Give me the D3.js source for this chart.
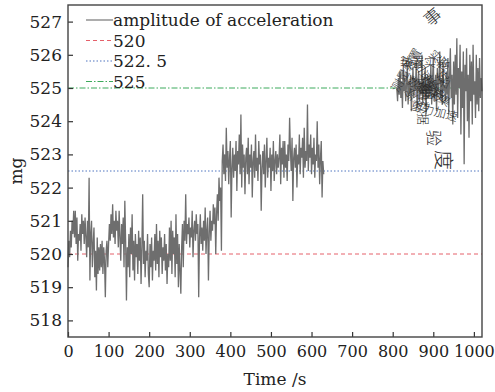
<!DOCTYPE html>
<html>
<head>
<meta charset="utf-8">
<script src="https://cdn.jsdelivr.net/npm/d3@7"></script>
<style>
  body { margin: 0; background: #fff; }
  text { font-family: "DejaVu Serif", "Liberation Serif", serif; }
</style>
</head>
<body>
<svg width="495" height="392"></svg>
<script>
// first recording: t = 0 .. 630 s, one sample every 2 s
const seg1Start = 0, seg1Step = 2;
const seg1Values = [
  519.6, 520.4, 519.9, 520.7, 520.2, 521.0, 520.6, 521.3, 520.5, 521.3, 520.3, 521.1, 519.8, 520.6, 520.4, 520.9, 520.1, 521.2, 520.6, 521.0,
  520.3, 521.1, 520.5, 519.9, 521.0, 520.2, 522.3, 519.2, 520.6, 521.0, 519.6, 520.3, 520.8, 519.3, 520.1, 518.9, 520.5, 519.4, 520.2, 519.5,
  520.3, 519.6, 520.4, 519.4, 520.2, 519.8, 518.7, 520.1, 520.4, 519.6, 520.3, 520.9, 520.4, 521.2, 520.6, 521.5, 520.5, 521.0, 520.3, 521.3,
  520.7, 521.0, 520.2, 521.3, 520.5, 519.8, 520.9, 520.3, 521.1, 519.6, 521.6, 520.4, 518.6, 520.2, 519.6, 520.6, 519.3, 520.8, 520.0, 521.2,
  519.5, 520.4, 519.2, 520.6, 519.9, 520.3, 519.4, 520.7, 519.8, 520.5, 519.1, 520.2, 521.8, 519.7, 520.4, 519.3, 520.1, 519.8, 520.6, 519.4,
  519.0, 520.3, 519.6, 520.5, 519.2, 520.1, 519.8, 520.6, 519.5, 520.9, 519.7, 520.4, 519.3, 520.7, 519.9, 520.5, 519.4, 520.2, 519.8, 520.6,
  519.5, 520.3, 519.1, 520.0, 519.6, 520.8, 519.8, 521.0, 519.4, 520.7, 520.0, 520.5, 519.3, 521.2, 519.7, 520.6, 519.0, 520.3, 519.5, 518.8,
  520.2, 520.9, 519.6, 521.0, 520.4, 521.8, 520.3, 520.9, 520.6, 521.1, 520.2, 520.8, 520.5, 521.3, 519.9, 520.7, 521.0, 520.4, 521.2, 520.6,
  520.9, 518.7, 520.5, 521.2, 520.3, 520.8, 520.1, 521.0, 520.4, 521.4, 520.0, 520.7, 521.1, 519.2, 520.6, 521.3, 520.4, 521.0, 520.7, 521.5,
  520.9, 521.4, 520.0, 521.2, 521.8, 521.0, 522.3, 521.6, 522.0, 520.1, 522.8, 523.3, 522.4, 523.0, 522.2, 523.8, 522.6, 523.1, 522.1, 522.9,
  523.4, 521.1, 522.6, 523.2, 522.3, 523.0, 522.5, 523.4, 521.9, 523.1, 522.7, 523.6, 522.4, 524.2, 522.0, 523.3, 522.6, 523.0, 521.8, 522.9,
  523.2, 522.4, 523.5, 522.1, 523.0, 522.6, 523.3, 521.7, 522.8, 523.1, 522.3, 523.6, 522.5, 522.9, 522.2, 523.4, 522.7, 523.0, 521.3, 522.6,
  523.1, 522.4, 523.3, 522.0, 522.8, 523.5, 522.3, 522.9, 522.6, 523.2, 521.9, 523.0, 522.5, 523.4, 522.2, 522.8, 523.1, 522.4, 523.0, 522.6,
  522.9, 523.6, 522.1, 523.2, 522.7, 523.4, 522.3, 523.4, 522.6, 523.0, 522.2, 523.3, 522.8, 524.1, 523.1, 522.5, 523.5, 521.6, 522.9, 523.2,
  522.6, 523.3, 522.0, 523.0, 522.7, 523.6, 522.4, 523.2, 522.9, 523.5, 522.3, 523.8, 522.6, 523.1, 522.8, 524.5, 522.5, 523.3, 522.9, 523.6,
  522.4, 523.2, 522.7, 523.5, 522.3, 523.0, 522.8, 524.0, 522.6, 523.3, 522.1, 522.9, 523.4, 521.7, 522.8, 522.4
];

// second recording: t = 810 .. 1020 s
const seg2Start = 810, seg2Step = 2;
const seg2Values = [
  525.0, 524.6, 525.3, 524.8, 525.5, 524.7, 525.2, 524.4, 525.6, 524.9, 525.3, 524.6, 525.1, 525.7, 524.5, 525.2, 524.8, 525.4, 524.3, 525.0,
  525.6, 524.7, 525.3, 524.9, 525.8, 524.4, 525.1, 525.5, 524.6, 525.2, 524.8, 526.0, 524.5, 525.3, 524.9, 525.6, 524.2, 525.1, 525.4, 524.7,
  525.3, 524.8, 525.7, 524.5, 525.2, 525.9, 524.6, 525.0, 525.4, 524.3, 525.6, 524.9, 525.2, 526.1, 524.7, 525.3, 524.5, 525.8, 524.9, 525.1,
  524.6, 525.5, 524.8, 525.9, 524.2, 525.3, 526.2, 524.7, 525.4, 523.9, 525.8, 524.5, 526.0, 524.8, 526.5, 524.1, 525.6, 525.0, 526.3, 523.6,
  525.5, 524.4, 526.1, 522.7, 525.7, 524.9, 526.2, 524.0, 525.4, 523.5, 526.0, 524.6, 525.8, 523.9, 526.3, 524.8, 525.2, 524.1, 526.0, 524.5,
  525.6, 524.3, 525.9, 524.7, 525.3, 524.9
];

const refLevels = [520, 522.5, 525];
const refLabels = ["520", "522. 5", "525"];
const refColors = ["#e5606a", "#4f74c0", "#3daa5c"];
const refDash = ["4,3", "1.5,2", "6,2,1.5,2"];
const seriesLabel = "amplitude of acceleration";
const xTicks = [0, 100, 200, 300, 400, 500, 600, 700, 800, 900, 1000];
const yTicks = [518, 519, 520, 521, 522, 523, 524, 525, 526, 527];
// overlapping text fragments sitting over the right part of the plot
const garbleText = ["事", "浩", "装置实验", "数据采集", "验证系统", "加速度计",
  "测量装置", "试验数据", "重力加速", "实验", "验", "度", "置", "采集"];

const margin = { top: 5, right: 13, bottom: 55, left: 68 };
const width = 495 - margin.left - margin.right;
const height = 392 - margin.top - margin.bottom;

const svg = d3.select("svg");
const g = svg.append("g").attr("transform", `translate(${margin.left},${margin.top})`);

const x = d3.scaleLinear().domain([0, 1020]).range([0, width]);
const y = d3.scaleLinear().domain([517.5, 527.5]).range([height, 0]);

const toPoints = (start, step, vals) => vals.map((v, i) => ({ t: start + i * step, v }));
const segments = [toPoints(seg1Start, seg1Step, seg1Values), toPoints(seg2Start, seg2Step, seg2Values)];

// reference lines
refLevels.forEach((lv, i) => {
  g.append("line")
    .attr("x1", 0).attr("x2", width)
    .attr("y1", y(lv)).attr("y2", y(lv))
    .style("stroke", refColors[i])
    .style("stroke-width", 1)
    .style("stroke-dasharray", refDash[i]);
});

const line = d3.line().x(d => x(d.t)).y(d => y(d.v));
segments.forEach(seg => {
  g.append("path")
    .attr("d", line(seg))
    .style("fill", "none")
    .style("stroke", "#6e6e6e")
    .style("stroke-width", 1.3);
});

// garbled characters
const garblePos = [
  [362, 22, -40, 17], [335, 50, 90, 12], [332, 62, 0, 12], [338, 78, 30, 12],
  [340, 96, -30, 12], [345, 58, 60, 12], [330, 88, -60, 12], [350, 72, 90, 12],
  [342, 104, 15, 12], [360, 50, 45, 12], [360, 125, 90, 16], [368, 145, 90, 20],
  [352, 92, 0, 13], [375, 70, 120, 12]
];
garbleText.forEach((s, i) => {
  const p = garblePos[i];
  g.append("text")
    .attr("transform", `translate(${p[0]},${p[1]}) rotate(${p[2]})`)
    .style("font-family", "'Noto Sans CJK SC', sans-serif")
    .style("font-size", p[3] + "px")
    .style("font-weight", 300)
    .style("fill", "#2a2a2a")
    .text(s);
});

// axes
const xAxis = d3.axisBottom(x).tickValues(xTicks).tickFormat(d3.format("d"))
  .tickSizeInner(-5).tickSizeOuter(0).tickPadding(9);
const yAxis = d3.axisLeft(y).tickValues(yTicks).tickFormat(d3.format("d"))
  .tickSizeInner(-5).tickSizeOuter(0).tickPadding(6);

const gx = g.append("g").attr("transform", `translate(0,${height})`).call(xAxis);
const gy = g.append("g").call(yAxis);
[gx, gy].forEach(a => {
  a.select(".domain").remove();
  a.selectAll("line").style("stroke", "#333").style("stroke-width", 1.2);
  a.selectAll("text").style("font-family", "'DejaVu Serif', serif").style("font-size", "17px").style("fill", "#222");
});
gx.selectAll("text").style("font-size", "16px");

g.append("rect")
  .attr("width", width).attr("height", height)
  .style("fill", "none").style("stroke", "#444").style("stroke-width", 1.4);

// legend
const legendRows = [{ label: seriesLabel, color: "#777", dash: null }]
  .concat(refLabels.map((l, i) => ({ label: l, color: refColors[i], dash: refDash[i] })));
const leg = g.append("g").attr("transform", "translate(18,15)");
legendRows.forEach((r, i) => {
  const ly = i * 20.5;
  leg.append("line")
    .attr("x1", 0).attr("x2", 27).attr("y1", ly).attr("y2", ly)
    .style("stroke", r.color).style("stroke-width", 1.2)
    .style("stroke-dasharray", r.dash);
  leg.append("text")
    .attr("x", 27).attr("y", ly + 6)
    .style("font-size", "17px").style("fill", "#222")
    .text(r.label);
});

// axis titles
svg.append("text")
  .attr("x", margin.left + width / 2).attr("y", 385)
  .attr("text-anchor", "middle")
  .style("font-size", "17px").style("fill", "#222")
  .text("Time /s");
svg.append("text")
  .attr("transform", `translate(22,${margin.top + height / 2}) rotate(-90)`)
  .attr("text-anchor", "middle")
  .style("font-size", "17px").style("fill", "#222")
  .text("mg");
</script>
</body>
</html>
